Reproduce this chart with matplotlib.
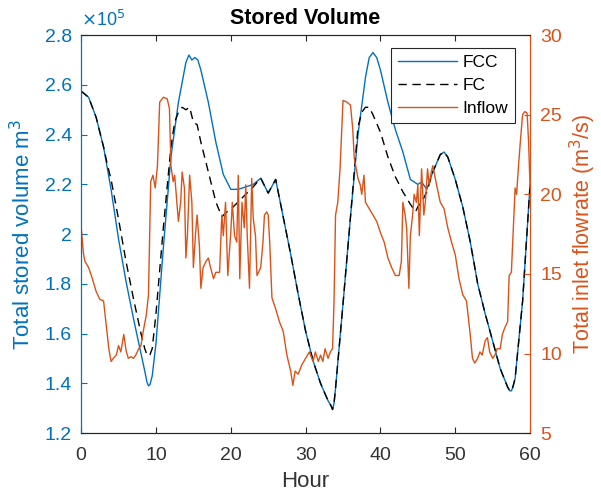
import matplotlib
matplotlib.use("Agg")
import matplotlib.pyplot as plt
from matplotlib.ticker import FuncFormatter

plt.rcParams['font.family'] = ['Liberation Sans', 'DejaVu Sans']

# ---- data (stored volume in units of 1e5 m^3, inflow in m^3/s) ----
fcc_hour = [0, 1, 2, 3, 4, 5, 6, 7, 8, 8.5, 8.8, 9, 9.2, 9.5, 10, 11, 12, 13, 14, 14.4, 14.8,
            15.2, 15.6, 16, 17, 18, 19, 20, 21, 22, 23, 24, 25, 26, 27, 28, 29, 30, 31, 32,
            33, 33.4, 33.6, 33.8, 34, 35, 36, 37, 38, 38.5, 39, 39.5, 40, 41, 42, 43, 44,
            45, 45.5, 46.2, 47, 48, 48.5, 49, 50, 51, 52, 53, 54, 55, 56, 57, 57.3, 57.5,
            57.7, 58, 59, 60]
fcc_volume = [2.575, 2.55, 2.47, 2.35, 2.18, 1.98, 1.81, 1.66, 1.52, 1.45, 1.405, 1.39, 1.395,
              1.43, 1.56, 1.95, 2.31, 2.53, 2.69, 2.72, 2.70, 2.71, 2.70, 2.66, 2.53, 2.37,
              2.24, 2.18, 2.18, 2.19, 2.20, 2.225, 2.165, 2.22, 2.07, 1.92, 1.76, 1.61, 1.49,
              1.40, 1.33, 1.31, 1.295, 1.32, 1.38, 1.72, 2.07, 2.40, 2.63, 2.71, 2.73, 2.71,
              2.66, 2.53, 2.42, 2.33, 2.22, 2.20, 2.21, 2.18, 2.25, 2.32, 2.33, 2.31, 2.22,
              2.11, 1.97, 1.80, 1.68, 1.57, 1.46, 1.385, 1.37, 1.37, 1.385, 1.42, 1.73, 2.20]

fc_hour = [0, 1, 2, 3, 3.5, 4, 5, 6, 7, 8, 8.5, 8.8, 9, 9.2, 9.5, 10, 11, 12, 12.5, 13, 13.5,
           14, 14.5, 15, 15.5, 16, 17, 18, 18.8, 19.5, 20, 21, 22, 23, 24, 25, 26, 27, 28,
           29, 30, 31, 32, 33, 33.4, 33.6, 33.8, 34, 35, 36, 37, 37.5, 38, 38.5, 39, 40, 41,
           42, 43, 44, 44.7, 45, 45.7, 46.2, 47, 48, 48.5, 49, 50, 51, 52, 53, 54, 55, 56,
           57, 57.3, 57.5, 57.7, 58, 59, 60]
fc_volume = [2.575, 2.55, 2.47, 2.35, 2.28, 2.22, 2.06, 1.89, 1.74, 1.60, 1.54, 1.515, 1.51,
             1.515, 1.54, 1.68, 2.03, 2.35, 2.45, 2.49, 2.51, 2.50, 2.51, 2.45, 2.44, 2.37,
             2.25, 2.13, 2.07, 2.09, 2.10, 2.13, 2.16, 2.19, 2.225, 2.165, 2.22, 2.07, 1.92,
             1.76, 1.61, 1.49, 1.40, 1.33, 1.31, 1.295, 1.32, 1.38, 1.72, 2.07, 2.43, 2.49,
             2.51, 2.51, 2.48, 2.41, 2.31, 2.23, 2.17, 2.12, 2.09, 2.11, 2.14, 2.17, 2.25,
             2.32, 2.33, 2.31, 2.22, 2.11, 1.97, 1.80, 1.68, 1.57, 1.46, 1.385, 1.37, 1.37,
             1.385, 1.42, 1.73, 2.20]

inflow_hour = [0, 0.3, 0.5, 1, 1.5, 2, 2.5, 3, 3.3, 3.7, 4, 4.3, 4.7, 5, 5.3, 5.7, 6, 6.3,
               6.7, 7, 7.3, 7.7, 8, 8.3, 8.7, 9, 9.3, 9.6, 9.9, 10.2, 10.5, 11, 11.5, 11.8,
               12, 12.3, 12.5, 13, 13.3, 13.5, 13.8, 14, 14.2, 14.5, 14.8, 15, 15.3, 15.5,
               15.8, 16, 16.3, 16.7, 17, 17.3, 17.7, 18, 18.5, 18.8, 19, 19.3, 19.6, 20,
               20.2, 20.5, 20.8, 21, 21.2, 21.5, 21.8, 22, 22.2, 22.5, 22.8, 23, 23.3, 23.5,
               24, 24.3, 24.5, 24.8, 25, 25.2, 25.5, 26, 26.5, 27, 27.5, 28, 28.3, 28.6, 29,
               29.5, 30, 30.5, 31, 31.3, 31.7, 32, 32.3, 32.6, 33, 33.3, 33.6, 33.8, 34,
               34.3, 34.6, 35, 35.5, 36, 36.3, 36.5, 37, 37.3, 37.5, 37.8, 38, 38.5, 39,
               39.5, 40, 40.5, 41, 41.5, 42, 42.5, 42.8, 43, 43.3, 43.5, 43.8, 44, 44.3,
               44.5, 44.8, 45, 45.2, 45.5, 45.8, 46, 46.3, 46.5, 46.8, 47, 47.5, 48, 48.5,
               49, 49.5, 50, 50.5, 51, 51.5, 52, 52.3, 52.6, 53, 53.3, 53.6, 54, 54.3, 54.6,
               55, 55.3, 55.6, 56, 56.3, 56.6, 57, 57.2, 57.5, 57.8, 58, 58.2, 58.5, 58.8,
               59, 59.3, 59.6, 59.8, 60]
inflow_rate = [18.0, 16.3, 15.8, 15.4, 14.7, 13.9, 13.4, 13.3, 12.0, 10.3, 9.5, 9.7, 9.9,
               10.5, 10.1, 11.2, 10.2, 9.7, 9.8, 9.7, 9.9, 10.3, 10.5, 11.4, 12.4, 13.7,
               20.8, 21.2, 20.4, 21.8, 25.8, 26.1, 26.0, 25.4, 21.8, 20.8, 21.2, 18.3, 19.5,
               21.4, 20.4, 16.0, 17.4, 21.2, 19.5, 15.4, 17.6, 18.7, 16.8, 14.1, 15.4, 15.8,
               16.0, 15.4, 14.7, 15.1, 15.1, 18.7, 17.4, 19.5, 14.9, 17.6, 19.5, 17.4, 17.0,
               21.2, 14.7, 19.5, 17.9, 20.6, 17.4, 14.1, 21.0, 18.5, 17.4, 14.9, 15.4, 17.0,
               18.7, 18.9, 18.7, 17.0, 13.5, 12.8, 12.0, 11.4, 9.9, 8.9, 8.0, 8.9, 8.7, 9.3,
               9.7, 10.1, 9.5, 10.1, 9.5, 9.9, 9.5, 10.3, 9.7, 10.1, 10.3, 13.3, 18.7, 19.5,
               21.6, 25.9, 25.8, 25.6, 24.1, 22.3, 21.0, 20.6, 20.0, 21.2, 19.5, 19.1, 18.7,
               18.3, 17.6, 17.0, 16.0, 15.4, 14.9, 14.9, 15.8, 19.5, 18.7, 17.9, 14.1, 17.4,
               18.7, 20.0, 19.5, 20.6, 17.4, 21.6, 18.7, 19.5, 21.6, 20.6, 21.4, 21.8, 20.6,
               19.5, 19.1, 17.9, 17.0, 16.2, 14.7, 13.7, 13.3, 11.2, 9.7, 9.4, 9.7, 10.1,
               9.9, 10.8, 11.0, 10.1, 9.7, 9.9, 10.3, 10.3, 11.2, 11.6, 12.0, 14.9, 15.1,
               18.3, 20.4, 20.0, 22.1, 23.9, 25.0, 25.2, 25.1, 23.3, 20.4]

volume_scale = 1e5
left_ticks = [1.2, 1.4, 1.6, 1.8, 2.0, 2.2, 2.4, 2.6, 2.8]
right_ticks = [5, 10, 15, 20, 25, 30]
x_ticks = [0, 10, 20, 30, 40, 50, 60]

BLUE = '#0072BD'
ORANGE = '#D95319'
AXC = '#262626'

fig = plt.figure(figsize=(6.01, 4.95), dpi=100)
ax = fig.add_axes([0.135, 0.125, 0.747, 0.804])
ax2 = ax.twinx()

fcc_vals = [v * volume_scale for v in fcc_volume]
fc_vals = [v * volume_scale for v in fc_volume]
l1, = ax.plot(fcc_hour, fcc_vals, color=BLUE, lw=1.0)
l2, = ax.plot(fc_hour, fc_vals, color='black', lw=1.0, ls=(0, (6, 4)))
l3, = ax2.plot(inflow_hour, inflow_rate, color=ORANGE, lw=1.0)

ax.set_xlim(0, 60)
ax.set_ylim(1.2 * volume_scale, 2.8 * volume_scale)
ax2.set_ylim(5, 30)
ax.set_xticks(x_ticks)
ax.set_yticks([t * volume_scale for t in left_ticks])
ax.yaxis.set_major_formatter(FuncFormatter(lambda v, p: f"{v / volume_scale:g}"))
ax2.set_yticks(right_ticks)

fs = 14
ax.tick_params(axis='x', direction='in', top=True, length=4, labelsize=fs, colors=AXC,
               labelcolor='#333333', pad=10)
ax.tick_params(axis='y', direction='in', length=4, labelsize=fs, colors=BLUE, pad=6.5)
ax2.tick_params(axis='y', direction='in', length=4, labelsize=fs, colors=ORANGE, pad=7.5)

for a in (ax, ax2):
    a.spines['top'].set_color(AXC)
    a.spines['bottom'].set_color(AXC)
    a.spines['left'].set_color(BLUE)
    a.spines['right'].set_color(ORANGE)
    for s in a.spines.values():
        s.set_linewidth(0.8)

ax.set_xlabel('Hour', fontsize=16, color='#333333', labelpad=5)
ax.set_ylabel('Total stored volume m$^3$', fontsize=16, color=BLUE, labelpad=7)
ax2.set_ylabel('Total inlet flowrate (m$^3$/s)', fontsize=15.5, color=ORANGE, labelpad=4)
ax.set_title('Stored Volume', fontsize=15.5, fontweight='bold', pad=8)
ax.text(0.0, 1.012, r'$\times$10$^5$', transform=ax.transAxes, color=BLUE, fontsize=13,
        ha='left', va='bottom')

leg = ax2.legend([l1, l2, l3], ['FCC', 'FC', 'Inflow'], loc='upper right',
                 bbox_to_anchor=(0.967, 0.967), borderaxespad=0, fontsize=12.5,
                 handlelength=3.45, handletextpad=0.3, fancybox=False, framealpha=1,
                 edgecolor=AXC, labelspacing=0.45, borderpad=0.4)
leg.get_frame().set_linewidth(0.8)

fig.savefig('out.png', dpi=100)
